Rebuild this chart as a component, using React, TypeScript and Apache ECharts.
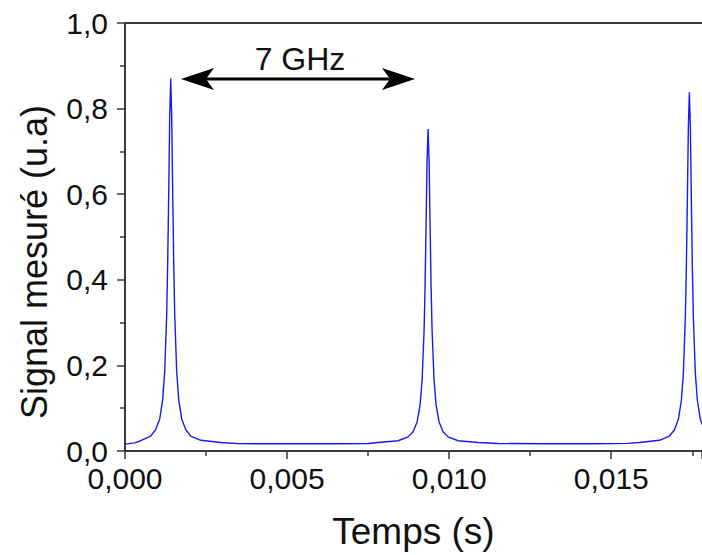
import React, { useEffect, useRef } from "react";
import * as echarts from "echarts";

// Temps (s)
const time: number[] = [
  0, 0.0003, 0.000484, 0.000793, 0.000947, 0.001071, 0.001163, 0.001225, 0.001287, 0.001317, 0.001348, 0.001379,
  0.00141,
  0.001441, 0.001472, 0.001503, 0.001533, 0.001595, 0.001657, 0.001749, 0.001873, 0.002027, 0.002336, 0.00295,
  0.0035, 0.005, 0.0065, 0.0075,
  0.00781, 0.008424, 0.008733, 0.008887, 0.009011, 0.009103, 0.009165, 0.009227, 0.009257, 0.009288, 0.009319,
  0.00935,
  0.009381, 0.009412, 0.009443, 0.009473, 0.009535, 0.009597, 0.009689, 0.009813, 0.009967, 0.010276, 0.01089,
  0.0115, 0.013, 0.0145, 0.0155,
  0.01587, 0.016484, 0.016793, 0.016947, 0.017071, 0.017163, 0.017225, 0.017287, 0.017317, 0.017348, 0.017379,
  0.01741,
  0.017441, 0.017472, 0.017503, 0.017533, 0.017595, 0.017657, 0.017749, 0.017873,
];

// Signal mesuré (u.a)
const signal: number[] = [
  0.016, 0.019, 0.024, 0.035, 0.05, 0.075, 0.12, 0.185, 0.32, 0.44, 0.6, 0.78,
  0.87,
  0.78, 0.6, 0.44, 0.32, 0.185, 0.12, 0.075, 0.05, 0.035, 0.025, 0.02,
  0.0172, 0.0168, 0.0171, 0.0175,
  0.02, 0.024, 0.033, 0.045, 0.068, 0.108, 0.164, 0.282, 0.385, 0.526, 0.679,
  0.752,
  0.679, 0.526, 0.385, 0.282, 0.164, 0.108, 0.068, 0.045, 0.033, 0.024, 0.02,
  0.0175, 0.0168, 0.017, 0.0178,
  0.02, 0.025, 0.035, 0.049, 0.074, 0.118, 0.181, 0.313, 0.427, 0.585, 0.756,
  0.838,
  0.756, 0.585, 0.427, 0.313, 0.181, 0.118, 0.074, 0.049,
];

const xTitle = "Temps (s)";
const yTitle = "Signal mesuré (u.a)";
const annotation = "7 GHz";

const FONT = "'Liberation Sans', Arial, Helvetica, sans-serif";

export default function App() {
  const ref = useRef<HTMLDivElement>(null);

  useEffect(() => {
    if (!ref.current) return;
    const chart = echarts.init(ref.current, undefined, { renderer: "svg" });
    const data = time.map((t, i) => [t, signal[i]]);
    const axisColor = "#3a3a3a";

    chart.setOption({
      animation: false,
      backgroundColor: "#ffffff",
      grid: { left: 125, top: 23, right: 0, bottom: 95, containLabel: false },
      xAxis: [
        {
          type: "value",
          min: 0,
          max: 0.0178,
          interval: 0.005,
          position: "bottom",
          name: xTitle,
          nameLocation: "middle",
          nameGap: 62,
          nameTextStyle: { fontFamily: FONT, fontSize: 37, color: "#111" },
          axisLine: { show: true, onZero: false, lineStyle: { color: axisColor, width: 2 } },
          axisTick: { show: true, inside: false, length: 8, lineStyle: { color: axisColor, width: 1.5 } },
          minorTick: { show: true, splitNumber: 2, length: 5, lineStyle: { color: axisColor, width: 1.5 } },
          splitLine: { show: false },
          axisLabel: {
            fontFamily: FONT,
            fontSize: 30,
            color: "#111",
            margin: 12,
            showMaxLabel: false,
            formatter: (v: number) => {
              const k = Math.round(v / 0.005);
              if (Math.abs(v - k * 0.005) > 1e-9) return "";
              return v.toFixed(3).replace(".", ",");
            },
          },
        },
        {
          type: "value",
          min: 0,
          max: 0.0178,
          position: "top",
          axisLine: { show: true, onZero: false, lineStyle: { color: axisColor, width: 2 } },
          axisTick: { show: false },
          axisLabel: { show: false },
          splitLine: { show: false },
        },
      ],
      yAxis: {
        type: "value",
        min: 0,
        max: 1,
        interval: 0.2,
        axisLine: { show: true, onZero: false, lineStyle: { color: axisColor, width: 2 } },
        axisTick: { show: true, inside: false, length: 8, lineStyle: { color: axisColor, width: 1.5 } },
        minorTick: { show: true, splitNumber: 2, length: 5, lineStyle: { color: axisColor, width: 1.5 } },
        splitLine: { show: false },
        axisLabel: {
          fontFamily: FONT,
          fontSize: 30,
          color: "#111",
          margin: 17,
          formatter: (v: number) => v.toFixed(1).replace(".", ","),
        },
      },
      series: [
        {
          type: "line",
          xAxisIndex: 0,
          data,
          showSymbol: false,
          symbol: "none",
          clip: true,
          lineStyle: { color: "#1a1af0", width: 1.4 },
        },
      ],
      graphic: [
        {
          type: "text",
          x: 34,
          y: 262,
          rotation: Math.PI / 2,
          style: {
            text: yTitle,
            fontFamily: FONT,
            fontSize: 36,
            fill: "#111",
            align: "center",
            verticalAlign: "middle",
          },
        },
        {
          type: "line",
          shape: { x1: 200, y1: 79, x2: 396, y2: 79 },
          style: { stroke: "#000", lineWidth: 3 },
        },
        {
          type: "polygon",
          shape: { points: [[181, 79], [214, 68], [206, 79], [214, 90]] },
          style: { fill: "#000" },
        },
        {
          type: "polygon",
          shape: { points: [[415, 79], [382, 68], [390, 79], [382, 90]] },
          style: { fill: "#000" },
        },
        {
          type: "text",
          x: 300,
          y: 59,
          style: {
            text: annotation,
            fontFamily: FONT,
            fontSize: 32,
            fill: "#111",
            align: "center",
            verticalAlign: "middle",
          },
        },
      ],
    });

    return () => chart.dispose();
  }, []);

  return (
    <div
      ref={ref}
      style={{ position: "absolute", left: 0, top: 0, width: 702, height: 555, background: "#fff" }}
    />
  );
}
